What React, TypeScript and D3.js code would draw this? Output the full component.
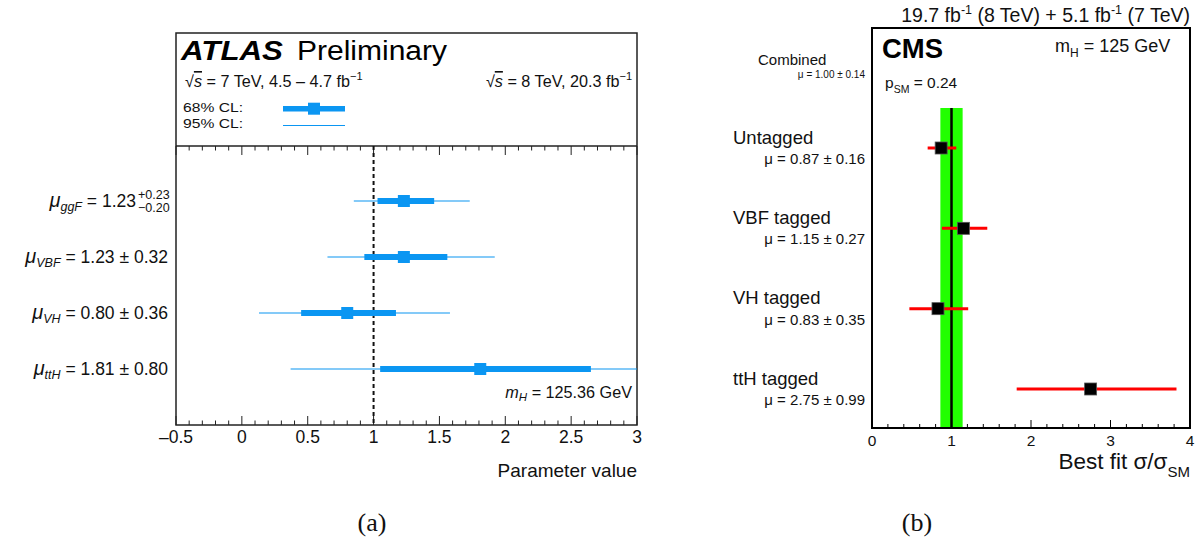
import React from "react";
import * as d3 from "d3";

// ---------- Left panel (ATLAS) data ----------
const atlasCats = ["ggF", "VBF", "VH", "ttH"];
const atlasCenter = [1.23, 1.23, 0.8, 1.81];
const atlasInnerLo = [1.03, 0.93, 0.45, 1.05];
const atlasInnerHi = [1.46, 1.56, 1.17, 2.65];
const atlasOuterLo = [0.85, 0.65, 0.13, 0.37];
const atlasOuterHi = [1.73, 1.92, 1.58, 3.4];
const atlasValueText = ["1.23", "1.23 \u00b1 0.32", "0.80 \u00b1 0.36", "1.81 \u00b1 0.80"];
const atlasGgfUp = "+0.23";
const atlasGgfDown = "\u22120.20";
const atlasMajorTicks = [-0.5, 0, 0.5, 1, 1.5, 2, 2.5, 3];
const atlasTickLabels = ["\u20130.5", "0", "0.5", "1", "1.5", "2", "2.5", "3"];

// ---------- Right panel (CMS) data ----------
const cmsCats = ["Untagged", "VBF tagged", "VH tagged", "ttH tagged"];
const cmsMu = [0.87, 1.15, 0.83, 2.75];
const cmsLo = [0.7, 0.88, 0.47, 1.82];
const cmsHi = [1.06, 1.45, 1.21, 3.83];
const cmsMuText = ["\u03bc = 0.87 \u00b1 0.16", "\u03bc = 1.15 \u00b1 0.27", "\u03bc = 0.83 \u00b1 0.35", "\u03bc = 2.75 \u00b1 0.99"];
const cmsCombined = 1.0;
const cmsCombinedLo = 0.86;
const cmsCombinedHi = 1.14;
const cmsMajorTicks = [0, 1, 2, 3, 4];

const BLUE = "#0b96f2";
const GREEN = "#22ff00";
const SANS = "'Liberation Sans', Arial, sans-serif";

export default function App() {
  // Left scales
  const xL = d3.scaleLinear().domain([-0.5, 3]).range([176, 637]);
  const yL = d3.scalePoint<string>().domain(atlasCats).range([201, 369]);
  const leftTop = 33, sep = 146, leftBottom = 425;
  const minorL = d3.range(-5, 31).map((i) => i / 10);

  // Right scales
  const xR = d3.scaleLinear().domain([0, 4]).range([872, 1190]);
  const yR = d3.scalePoint<string>().domain(cmsCats).range([148, 389]);
  const rTop = 28, rBottom = 428;
  const minorR = d3.range(0, 21).map((i) => i / 5);

  return (
    <svg width={1199} height={541} style={{ position: "absolute", left: 0, top: 0, background: "#fff" }} fontFamily={SANS}>
      <defs>
        <clipPath id="clipL">
          <rect x={176} y={sep} width={461} height={leftBottom - sep} />
        </clipPath>
      </defs>
      <rect x={0} y={0} width={1199} height={541} fill="#fff" />

      {/* ================= LEFT PANEL ================= */}
      <rect x={176} y={leftTop} width={461} height={leftBottom - leftTop} fill="none" stroke="#222" strokeWidth={1.5} />
      <line x1={176} x2={637} y1={sep} y2={sep} stroke="#222" strokeWidth={1.5} />

      {minorL.map((v, i) => {
        const major = i % 5 === 0;
        const len = major ? 9 : 4.5;
        return (
          <g key={"tl" + i}>
            <line x1={xL(v)} x2={xL(v)} y1={leftBottom} y2={leftBottom - len} stroke="#222" strokeWidth={1} />
            <line x1={xL(v)} x2={xL(v)} y1={sep} y2={sep + len} stroke="#222" strokeWidth={1} />
          </g>
        );
      })}
      {atlasMajorTicks.map((v, i) => (
        <text key={"tlab" + i} x={xL(v)} y={443} fontSize={17.5} textAnchor="middle" fill="#111">
          {atlasTickLabels[i]}
        </text>
      ))}
      <text x={637} y={477} fontSize={19} textAnchor="end" fill="#111">Parameter value</text>

      <line x1={xL(1)} x2={xL(1)} y1={sep} y2={leftBottom} stroke="#111" strokeWidth={2} strokeDasharray="4,3" />

      <g clipPath="url(#clipL)">
        {atlasCats.map((c, i) => {
          const y = yL(c)!;
          return (
            <g key={"a" + c}>
              <line x1={xL(atlasOuterLo[i])} x2={xL(atlasOuterHi[i])} y1={y} y2={y} stroke={BLUE} strokeWidth={1.2} />
              <rect x={xL(atlasInnerLo[i])} y={y - 3} width={xL(atlasInnerHi[i]) - xL(atlasInnerLo[i])} height={6} fill={BLUE} />
              <rect x={xL(atlasCenter[i]) - 6} y={y - 6} width={12} height={12} fill={BLUE} />
            </g>
          );
        })}
      </g>

      {/* labels left, right-aligned before the frame */}
      {atlasCats.map((c, i) => {
        const y = yL(c)! + 6;
        const endX = i === 0 ? 136 : 168;
        return (
          <g key={"al" + c}>
            <text x={endX} y={y} fontSize={17.5} fill="#111" textAnchor="end">
              <tspan fontStyle="italic" fontSize={20}>{"\u03bc"}</tspan>
              <tspan fontStyle="italic" fontSize={12.5} dy={4}>{c}</tspan>
              <tspan dy={-4}>{" = " + atlasValueText[i]}</tspan>
            </text>
            {i === 0 ? (
              <>
                <text x={138} y={y - 8} fontSize={12.5} fill="#111">{atlasGgfUp}</text>
                <text x={138} y={y + 5} fontSize={12.5} fill="#111">{atlasGgfDown}</text>
              </>
            ) : null}
          </g>
        );
      })}

      {/* header */}
      <text x={181} y={60} fontSize={27} fontWeight="bold" fontStyle="italic" fill="#000" textLength={102} lengthAdjust="spacingAndGlyphs">ATLAS</text>
      <text x={297} y={60} fontSize={27} fill="#000" textLength={150} lengthAdjust="spacingAndGlyphs">Preliminary</text>
      <text x={185} y={87} fontSize={16.2} fill="#111">
        <tspan>{"\u221a"}</tspan>
        <tspan fontStyle="italic" textDecoration="overline">s</tspan>
        <tspan>{" = 7 TeV, 4.5 \u2013 4.7 fb"}</tspan>
        <tspan fontSize={11} dy={-7}>{"\u22121"}</tspan>
      </text>
      <text x={632} y={87} fontSize={16.2} fill="#111" textAnchor="end">
        <tspan>{"\u221a"}</tspan>
        <tspan fontStyle="italic" textDecoration="overline">s</tspan>
        <tspan>{" = 8 TeV, 20.3 fb"}</tspan>
        <tspan fontSize={11} dy={-7}>{"\u22121"}</tspan>
      </text>
      <text x={183} y={112} fontSize={13.5} fill="#111" textLength={60} lengthAdjust="spacingAndGlyphs">68% CL:</text>
      <text x={183} y={128} fontSize={13.5} fill="#111" textLength={60} lengthAdjust="spacingAndGlyphs">95% CL:</text>
      <rect x={283} y={106} width={62} height={5.5} fill={BLUE} />
      <rect x={308} y={102.7} width={12} height={12} fill={BLUE} />
      <line x1={283} x2={345} y1={125.5} y2={125.5} stroke={BLUE} strokeWidth={1.2} />

      <text x={632} y={398} fontSize={16.2} fill="#111" textAnchor="end">
        <tspan fontStyle="italic">m</tspan>
        <tspan fontStyle="italic" fontSize={11.5} dy={3}>H</tspan>
        <tspan dy={-3}>{" = 125.36 GeV"}</tspan>
      </text>

      {/* ================= RIGHT PANEL ================= */}
      <rect x={xR(cmsCombinedLo)} y={108} width={xR(cmsCombinedHi) - xR(cmsCombinedLo)} height={rBottom - 108} fill={GREEN} />
      <line x1={xR(cmsCombined)} x2={xR(cmsCombined)} y1={108} y2={rBottom} stroke="#000" strokeWidth={2.5} />

      {cmsCats.map((c, i) => {
        const y = yR(c)!;
        return (
          <g key={"c" + c}>
            <line x1={xR(cmsLo[i])} x2={xR(cmsHi[i])} y1={y} y2={y} stroke="#ff0000" strokeWidth={3} />
            <rect x={xR(cmsMu[i]) - 6} y={y - 6} width={12} height={12} fill="#000" stroke="#555" strokeWidth={0.8} />
          </g>
        );
      })}

      <rect x={872} y={rTop} width={318} height={rBottom - rTop} fill="none" stroke="#000" strokeWidth={2} />
      {minorR.map((v, i) => {
        const major = i % 5 === 0;
        const len = major ? 8 : 4;
        return <line key={"tr" + i} x1={xR(v)} x2={xR(v)} y1={rBottom} y2={rBottom - len} stroke="#000" strokeWidth={1} />;
      })}
      {cmsMajorTicks.map((v) => (
        <text key={"trl" + v} x={xR(v)} y={446} fontSize={15.5} textAnchor="middle" fill="#111">{String(v)}</text>
      ))}
      <text x={1190} y={469} fontSize={22.5} textAnchor="end" fill="#111">
        <tspan>{"Best fit \u03c3/\u03c3"}</tspan>
        <tspan fontSize={15} dy={8}>SM</tspan>
      </text>

      <text x={1190} y={22} fontSize={19.5} textAnchor="end" fill="#111">
        <tspan>19.7 fb</tspan>
        <tspan fontSize={12.5} dy={-8}>-1</tspan>
        <tspan dy={8}>{" (8 TeV) +  5.1 fb"}</tspan>
        <tspan fontSize={12.5} dy={-8}>-1</tspan>
        <tspan dy={8}>{" (7 TeV)"}</tspan>
      </text>

      <text x={882} y={58} fontSize={27.5} fontWeight="bold" fill="#000">CMS</text>
      <text x={1055} y={52} fontSize={18} fill="#111">
        <tspan>m</tspan>
        <tspan fontSize={12} dy={5}>H</tspan>
        <tspan dy={-5}>{" = 125 GeV"}</tspan>
      </text>
      <text x={885} y={88} fontSize={15.5} fill="#111">
        <tspan>p</tspan>
        <tspan fontSize={10.5} dy={5}>SM</tspan>
        <tspan dy={-5}>{" = 0.24"}</tspan>
      </text>

      <text x={758} y={65} fontSize={15} fill="#111">Combined</text>
      <text x={865} y={78} fontSize={10} fill="#111" textAnchor="end">{"\u03bc = 1.00 \u00b1 0.14"}</text>

      {cmsCats.map((c, i) => {
        const y = yR(c)!;
        return (
          <g key={"cl" + c}>
            <text x={733} y={y - 4.5} fontSize={18.5} fill="#111">{c}</text>
            <text x={865} y={y + 16} fontSize={15} fill="#111" textAnchor="end">{cmsMuText[i]}</text>
          </g>
        );
      })}

      <text x={372} y={531} fontSize={26} textAnchor="middle" fontFamily="'Liberation Serif', serif" fill="#111">(a)</text>
      <text x={917} y={531} fontSize={26} textAnchor="middle" fontFamily="'Liberation Serif', serif" fill="#111">(b)</text>
    </svg>
  );
}
